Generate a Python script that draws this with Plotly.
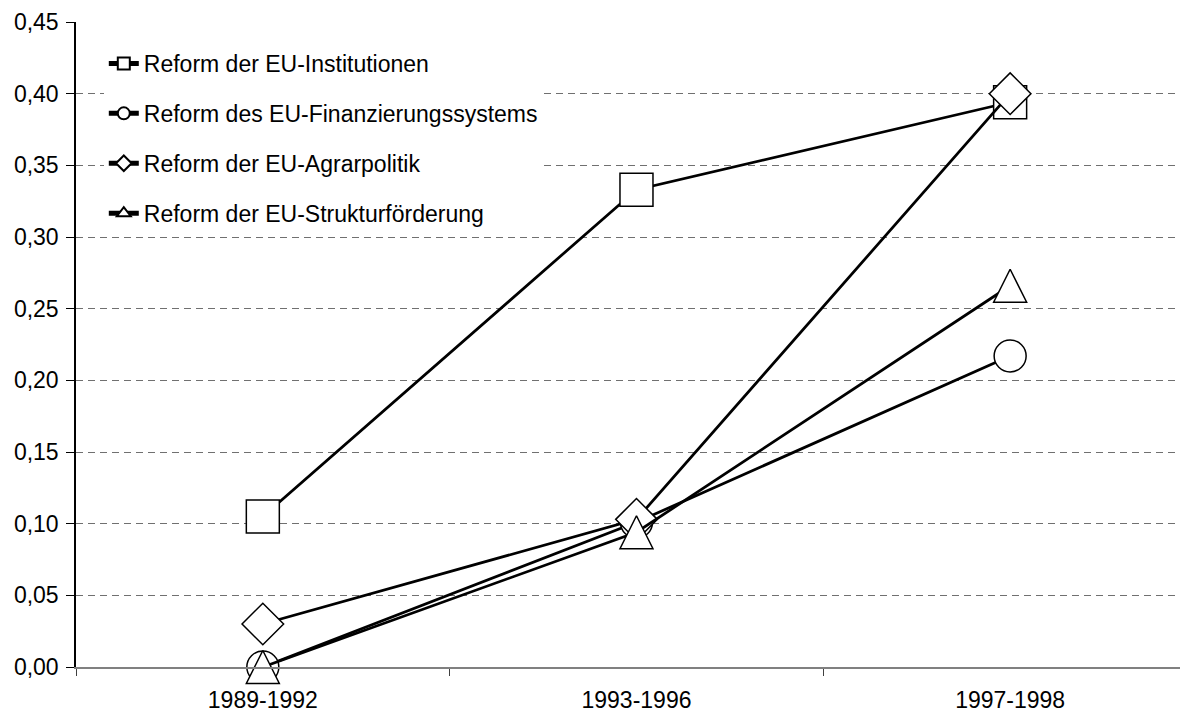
import plotly.graph_objects as go

categories = ["1989-1992", "1993-1996", "1997-1998"]
series_names = [
    "Reform der EU-Institutionen",
    "Reform des EU-Finanzierungssystems",
    "Reform der EU-Agrarpolitik",
    "Reform der EU-Strukturförderung",
]
institutionen = [0.105, 0.333, 0.394]
finanzierung = [0.0, 0.101, 0.217]
agrarpolitik = [0.030, 0.103, 0.400]
strukturfoerderung = [0.0, 0.094, 0.266]
y_ticks = [0, 0.05, 0.10, 0.15, 0.20, 0.25, 0.30, 0.35, 0.40, 0.45]

FONT = "Liberation Sans, Arial, sans-serif"
MS = 33

fig = go.Figure()

styles = [
    (institutionen, dict(symbol="square", size=MS), "square"),
    (finanzierung, dict(symbol="circle", size=MS - 1), "circle"),
    (agrarpolitik, dict(symbol="diamond", size=MS - 1), "diamond"),
    (strukturfoerderung, dict(symbol="arrow-down", size=MS, angle=180, standoff=MS / 2), "triangle-up"),
]

line_style = dict(color="black", width=2.75)

for i, (vals, mk, legend_symbol) in enumerate(styles):
    fig.add_trace(go.Scatter(
        x=categories, y=vals, name=series_names[i],
        mode="lines+markers",
        line=line_style,
        marker=dict(color="white", line=dict(color="black", width=1.5), **mk),
        cliponaxis=False,
        showlegend=False,
        hoverinfo="x+y+name",
    ))

# legend entries (no data drawn)
for i, (vals, mk, legend_symbol) in enumerate(styles):
    fig.add_trace(go.Scatter(
        x=[None], y=[None], name=series_names[i],
        mode="lines+markers",
        line=line_style,
        marker=dict(color="white", line=dict(color="black", width=1.5),
                    symbol=legend_symbol, size=12),
        legendgroup=f"g{i}",
        showlegend=True,
    ))

# page body has an 8px default margin; size the figure so it fits the window
fig.update_layout(
    width=1180, height=708, autosize=False,
    margin=dict(l=68, r=0, t=14, b=49),
    paper_bgcolor="white", plot_bgcolor="white",
    separators=", ",
    font=dict(family=FONT, size=23, color="black"),
    showlegend=True,
    legend=dict(
        x=0.025, y=0.969, xanchor="left", yanchor="top",
        bgcolor="white", borderwidth=0,
        font=dict(family=FONT, size=23, color="black"),
        tracegroupgap=17, itemsizing="constant",
    ),
    xaxis=dict(
        type="category", categoryorder="array", categoryarray=categories,
        range=[-0.5, 2.476], automargin=False,
        showgrid=False, zeroline=False,
        showline=True, linecolor="#808080", linewidth=1.5,
        ticks="outside", tickson="boundaries", ticklen=7, tickcolor="#404040", tickwidth=1,
        ticklabelstandoff=12,
        tickfont=dict(family=FONT, size=23, color="black"),
    ),
    yaxis=dict(
        range=[0, 0.45], tickvals=y_ticks, tickformat=".2f", automargin=False,
        showgrid=True, gridcolor="#707070", gridwidth=1, griddash="7px,5px",
        zeroline=False,
        showline=True, linecolor="black", linewidth=1.5,
        ticks="outside", ticklen=8, tickcolor="black", tickwidth=1,
        ticklabelstandoff=3,
        tickfont=dict(family=FONT, size=23, color="black"),
    ),
)

fig.write_html("out.html")
